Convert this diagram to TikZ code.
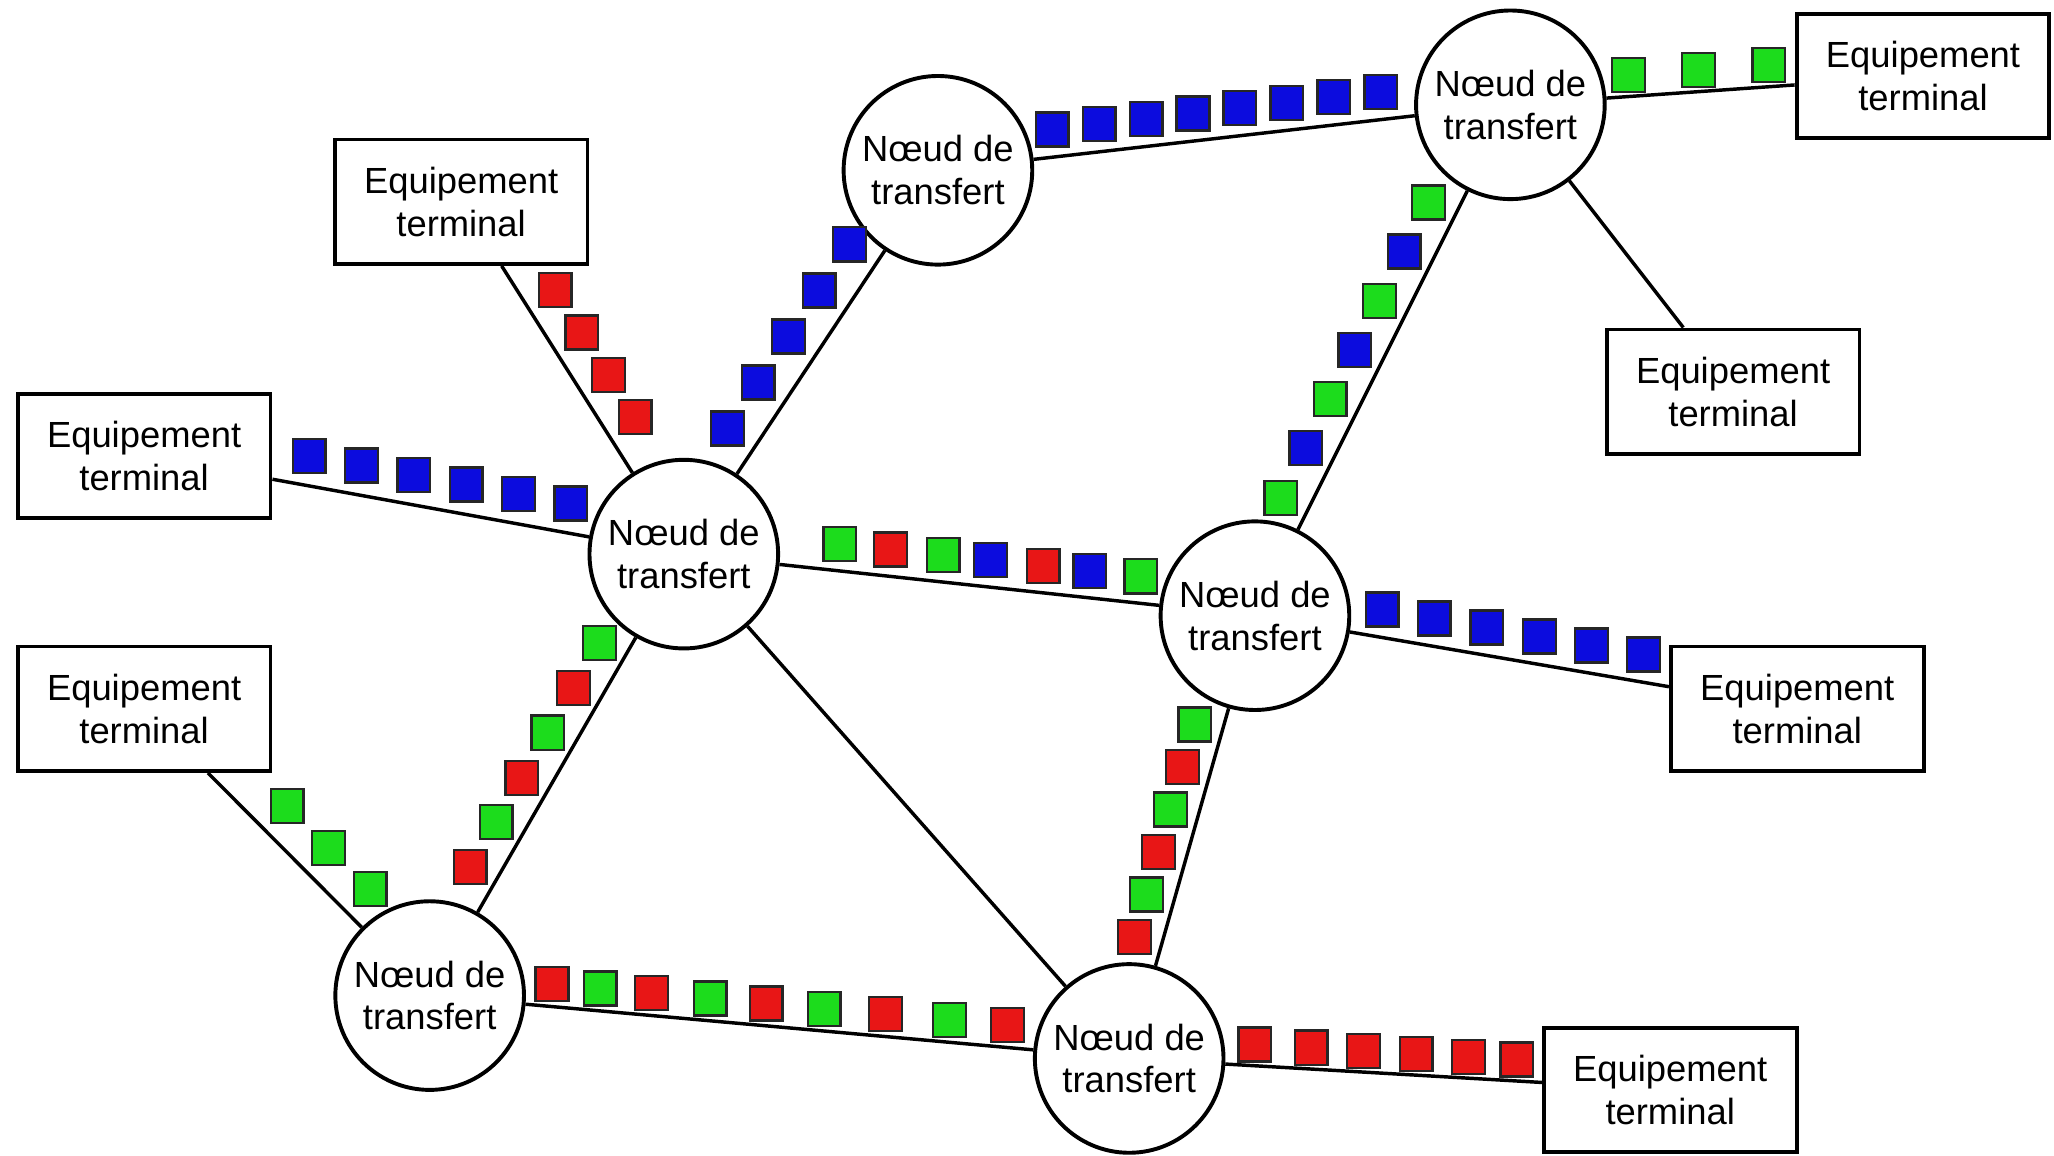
\documentclass[tikz,border=0pt]{standalone}
\usepackage{fontspec}
\setmainfont{Liberation Sans}
\usepackage{tikz}
\usepackage{xcolor}
\usetikzlibrary{positioning, calc}

\definecolor{rouge}{RGB}{232,22,22}
\definecolor{vert}{RGB}{28,220,28}
\definecolor{bleu}{RGB}{12,12,222}

\begin{document}
\begin{tikzpicture}[
    noeud/.style={circle, draw, line width=0.85pt, fill=white, minimum size=1.44cm, inner sep=0pt, align=center, font=\fontsize{7.9}{9.3}\selectfont},
    terminal/.style={rectangle, draw, line width=0.85pt, fill=white, minimum width=1.93cm, minimum height=0.95cm, inner sep=0pt, align=center, font=\fontsize{7.9}{9.3}\selectfont},
    lien/.style={line width=0.75pt},
    paquet/.style={rectangle, draw=black!85, line width=0.5pt, minimum width=0.25cm, minimum height=0.26cm, inner sep=0pt}
]
                    \useasboundingbox (0, 0) rectangle (15.68, 8.82);

                    \node[noeud] (n1) at (7.16, 7.52) {Nœud de\\transfert};
                    \node[noeud] (n2) at (11.53, 8.02) {Nœud de\\transfert};
                    \node[noeud] (n3) at (5.22, 4.59) {Nœud de\\transfert};
                    \node[noeud] (n4) at (9.58, 4.12) {Nœud de\\transfert};
                    \node[noeud] (n5) at (3.28, 1.22) {Nœud de\\transfert};
                    \node[noeud] (n6) at (8.62, 0.74) {Nœud de\\transfert};

                    \node[terminal] (t1) at (3.52, 7.28) {Equipement\\terminal};
                    \node[terminal] (t2) at (1.10, 5.34) {Equipement\\terminal};
                    \node[terminal] (t3) at (1.10, 3.41) {Equipement\\terminal};
                    \node[terminal] (t4) at (14.68, 8.24) {Equipement\\terminal};
                    \node[terminal] (t5) at (13.23, 5.83) {Equipement\\terminal};
                    \node[terminal] (t6) at (13.72, 3.41) {Equipement\\terminal};
                    \node[terminal] (t7) at (12.75, 0.50) {Equipement\\terminal};

                    \draw[lien] (t1) -- (n3);
                    \draw[lien] (t2) -- (n3);
                    \draw[lien] (n3) -- (n1);
                    \draw[lien] (n1) -- (n2);
                    \draw[lien] (n2) -- (t4);
                    \draw[lien] (n2) -- (t5);
                    \draw[lien] (n2) -- (n4);
                    \draw[lien] (n3) -- (n4);
                    \draw[lien] (n4) -- (t6);
                    \draw[lien] (t3) -- (n5);
                    \draw[lien] (n5) -- (n3);
                    \draw[lien] (n5) -- (n6);
                    \draw[lien] (n3) -- (n6);
                    \draw[lien] (n6) -- (n4);
                    \draw[lien] (n6) -- (t7);

                    \foreach \p/\c in {0.296/bleu, 0.393/bleu, 0.490/bleu, 0.587/bleu, 0.684/bleu, 0.781/bleu}
                        \node[paquet, fill=\c] at ($(t2)!\p!(n3)!0.225cm!90:(n3)$) {};
                    \foreach \p/\c in {0.30/rouge, 0.42/rouge, 0.54/rouge, 0.66/rouge}
                        \node[paquet, fill=\c] at ($(t1)!\p!(n3)!0.245cm!90:(n3)$) {};
                    \foreach \p/\c in {0.28/bleu, 0.40/bleu, 0.52/bleu, 0.64/bleu, 0.76/bleu}
                        \node[paquet, fill=\c] at ($(n3)!\p!(n1)!0.25cm!90:(n1)$) {};
                    \foreach \p/\c in {0.205/bleu, 0.287/bleu, 0.369/bleu, 0.451/bleu, 0.533/bleu, 0.615/bleu, 0.697/bleu, 0.779/bleu}
                        \node[paquet, fill=\c] at ($(n1)!\p!(n2)!0.21cm!90:(n2)$) {};
                    \foreach \p/\c in {0.29/vert, 0.46/vert, 0.63/vert}
                        \node[paquet, fill=\c] at ($(n2)!\p!(t4)!0.165cm!90:(t4)$) {};
                    \foreach \p/\c in {0.217/vert, 0.313/bleu, 0.410/vert, 0.506/bleu, 0.602/vert, 0.698/bleu, 0.795/vert}
                        \node[paquet, fill=\c] at ($(n2)!\p!(n4)!0.225cm!-90:(n4)$) {};
                    \foreach \p/\c in {0.268/vert, 0.357/rouge, 0.449/vert, 0.532/bleu, 0.624/rouge, 0.706/bleu, 0.795/vert}
                        \node[paquet, fill=\c] at ($(n3)!\p!(n4)!0.205cm!90:(n4)$) {};
                    \foreach \p/\c in {0.226/bleu, 0.322/bleu, 0.419/bleu, 0.516/bleu, 0.612/bleu, 0.708/bleu}
                        \node[paquet, fill=\c] at ($(n4)!\p!(t6)!0.21cm!90:(t6)$) {};
                    \foreach \p/\c in {0.42/vert, 0.565/vert, 0.71/vert}
                        \node[paquet, fill=\c] at ($(t3)!\p!(n5)!0.25cm!90:(n5)$) {};
                    \foreach \p/\c in {0.258/rouge, 0.360/vert, 0.461/rouge, 0.563/vert, 0.664/rouge, 0.766/vert}
                        \node[paquet, fill=\c] at ($(n5)!\p!(n3)!0.22cm!90:(n3)$) {};
                    \foreach \p/\c in {0.172/rouge, 0.241/vert, 0.314/rouge, 0.398/vert, 0.478/rouge, 0.561/vert, 0.649/rouge, 0.740/vert, 0.823/rouge}
                        \node[paquet, fill=\c] at ($(n5)!\p!(n6)!0.17cm!90:(n6)$) {};
                    \foreach \p/\c in {0.257/rouge, 0.353/vert, 0.449/rouge, 0.545/vert, 0.641/rouge, 0.737/vert}
                        \node[paquet, fill=\c] at ($(n6)!\p!(n4)!0.215cm!90:(n4)$) {};
                    \foreach \p/\c in {0.230/rouge, 0.334/rouge, 0.431/rouge, 0.528/rouge, 0.625/rouge, 0.714/rouge}
                        \node[paquet, fill=\c] at ($(n6)!\p!(t7)!0.163cm!90:(t7)$) {};
                \end{tikzpicture}
\end{document}
